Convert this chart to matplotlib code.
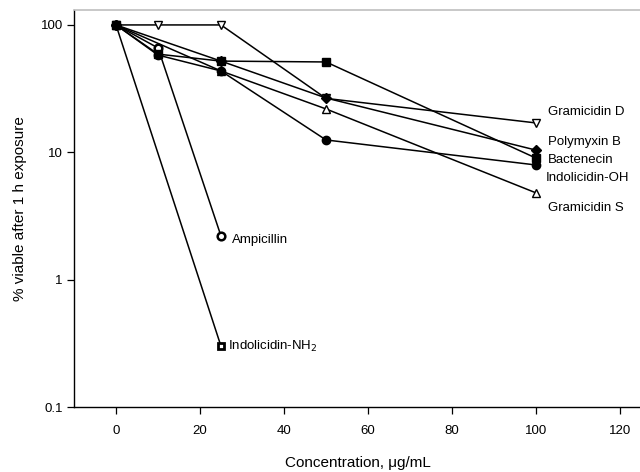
import matplotlib
matplotlib.use("Agg")
import matplotlib.pyplot as plt

plt.rcParams['font.family'] = ['Liberation Sans', 'DejaVu Sans']

# Data
gramD_x = [0, 10, 25, 50, 100]
gramD_y = [100, 100, 100, 26.5, 17.0]
poly_x = [0, 25, 50, 100]
poly_y = [100, 52, 26.7, 10.4]
bact_x = [0, 10, 25, 50, 100]
bact_y = [100, 59, 52, 51.2, 9.0]
indoOH_x = [0, 10, 25, 50, 100]
indoOH_y = [100, 58, 43.5, 12.5, 7.95]
gramS_x = [0, 25, 50, 100]
gramS_y = [100, 43.5, 21.9, 4.8]
amp_x = [0, 10, 25]
amp_y = [100, 66, 2.2]
indoNH2_x = [0, 25]
indoNH2_y = [100, 0.30]

labels = ["Gramicidin D", "Polymyxin B", "Bactenecin", "Indolicidin-OH",
          "Gramicidin S", "Ampicillin", "Indolicidin-NH$_2$"]
xticks = [0, 20, 40, 60, 80, 100, 120]
yticks = [0.1, 1, 10, 100]
yticklabels = ["0.1", "1", "10", "100"]

fig = plt.figure(figsize=(6.4, 4.72), dpi=100)
ax = fig.add_axes([74/640, 65/472, 567/640, 397/472])

lw = 1.1
ax.plot(indoNH2_x, indoNH2_y, color='black', lw=lw, marker='s', ms=5,
        mfc='white', mec='black', mew=2.0, zorder=3)
ax.plot(amp_x, amp_y, color='black', lw=lw, marker='o', ms=5.5,
        mfc='white', mec='black', mew=1.8, zorder=3)
ax.plot(gramS_x, gramS_y, color='black', lw=lw, marker='^', ms=5.5,
        mfc='white', mec='black', mew=1.0, zorder=3)
ax.plot(gramD_x, gramD_y, color='black', lw=lw, marker='v', ms=5.5,
        mfc='white', mec='black', mew=1.0, zorder=3)
ax.plot(indoOH_x, indoOH_y, color='black', lw=lw, marker='o', ms=6,
        mfc='black', mec='black', zorder=4)
ax.plot(bact_x, bact_y, color='black', lw=lw, marker='s', ms=5.5,
        mfc='black', mec='black', zorder=4)
ax.plot(poly_x, poly_y, color='black', lw=lw, marker='D', ms=5.5,
        mfc='black', mec='black', zorder=5)

ax.set_yscale('log')
ax.set_xlim(-10, 125)
ax.set_ylim(0.1, 131)
ax.set_xticks(xticks)
ax.set_xticklabels([str(t) for t in xticks])
ax.set_yticks(yticks)
ax.set_yticklabels(yticklabels)
ax.minorticks_off()
ax.tick_params(axis='both', direction='out', length=5, width=0.9,
               labelsize=9.5, colors='black', pad=8)
ax.tick_params(axis='y', pad=3)

for side in ['left', 'bottom']:
    ax.spines[side].set_linewidth(1.0)
ax.spines['top'].set_color('0.75')
ax.spines['top'].set_linewidth(1.2)
ax.spines['right'].set_visible(False)

fs = 9.5
ax.text(102.9, 20.7, labels[0], fontsize=fs, va='center', ha='left')
ax.text(102.9, 12.05, labels[1], fontsize=fs, va='center', ha='left')
ax.text(102.9, 8.7, labels[2], fontsize=fs, va='center', ha='left')
ax.text(102.4, 6.29, labels[3], fontsize=fs, va='center', ha='left')
ax.text(102.9, 3.65, labels[4], fontsize=fs, va='center', ha='left')
ax.text(27.7, 2.05, labels[5], fontsize=fs, va='center', ha='left')
ax.text(26.7, 0.30, labels[6], fontsize=fs, va='center', ha='left')

ax.set_xlabel("Concentration, \u03bcg/mL", fontsize=11, labelpad=14)
ax.set_ylabel("% viable after 1 h exposure", fontsize=11, labelpad=10)

fig.savefig("out.png", dpi=100)
